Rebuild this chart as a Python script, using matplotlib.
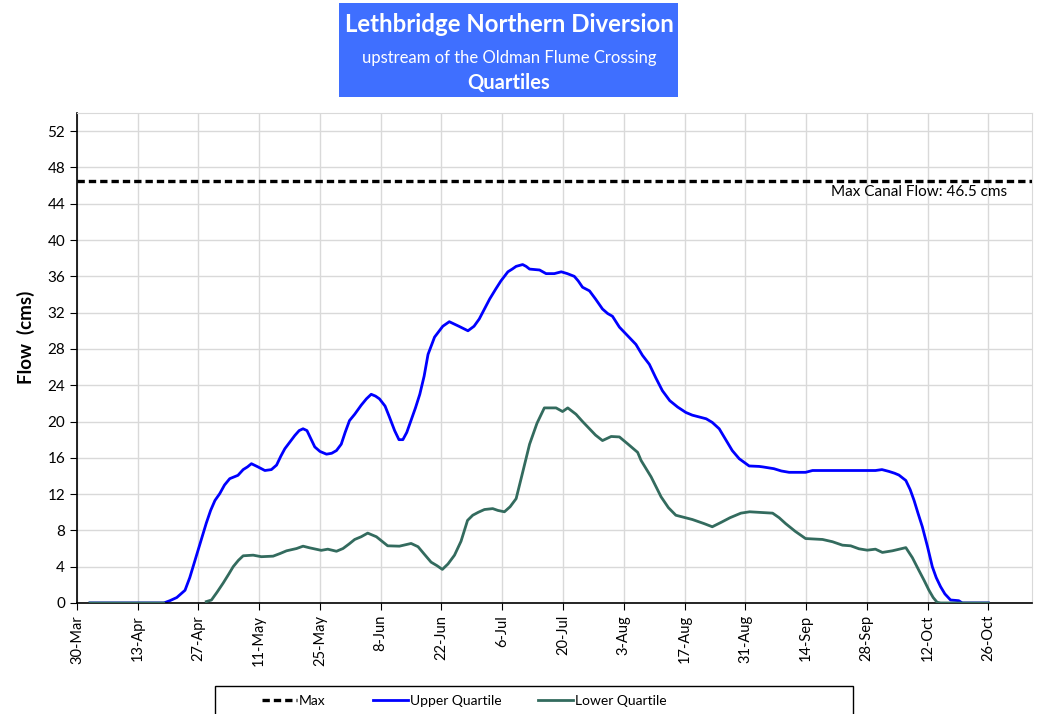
import numpy as np
import matplotlib
matplotlib.use("Agg")
import matplotlib.pyplot as plt
from matplotlib.patches import Rectangle

plt.rcParams['font.family'] = ['Lato', 'DejaVu Sans']

# x axis: days after 30-Mar
tick_days = list(range(0, 211, 14))
tick_labels = ['30-Mar', '13-Apr', '27-Apr', '11-May', '25-May', '8-Jun', '22-Jun',
               '6-Jul', '20-Jul', '3-Aug', '17-Aug', '31-Aug', '14-Sep', '28-Sep',
               '12-Oct', '26-Oct']

max_flow = 46.5

# Upper quartile (cms)
upper_days = [3, 20, 21.4, 23, 24.9, 26, 27.2, 28.5, 29.8, 30.8, 31.8, 32.9, 34, 35.2,
              37.1, 38.3, 39.3, 40.2, 41.7, 43.3, 44.8, 46, 47, 47.9, 49, 50.2, 51.2,
              52.1, 53, 54, 54.8, 56, 57.5, 58.7, 59.8, 60.9, 61.8, 62.8, 64, 65.5,
              66.7, 67.8, 68.8, 69.7, 71, 72, 73.2, 74.2, 75.1, 76, 76.6, 78, 79, 80,
              80.9, 82.4, 84.3, 85.8, 88, 90.1, 91.5, 92.7, 94, 95.1, 96.5, 97.7,
              99.3, 100.3, 101.2, 102.7, 103.5, 104.3, 106.6, 108.1, 110, 111.6, 113,
              114.6, 115.5, 116.5, 118.1, 119.5, 121.1, 122.3, 123.4, 125, 127, 128.8,
              130.3, 131.9, 133.4, 134.9, 136.6, 138.4, 140.3, 141.8, 143.4, 145,
              146.4, 148, 149.5, 151, 152.6, 154.9, 157.2, 158, 160.6, 162.3, 164.1,
              167.9, 169.5, 184, 185.5, 187.1, 188.4, 189.4, 191, 192, 192.9, 193.8,
              194.8, 196, 197.1, 198, 199, 200, 201.3, 203.2, 204, 210]
upper_flow = [0, 0, 0.25, 0.6, 1.4, 2.8, 4.7, 6.8, 8.8, 10.2, 11.3, 12.05, 13.0, 13.7,
              14.07, 14.7, 15.0, 15.35, 15.0, 14.6, 14.7, 15.2, 16.2, 17.0, 17.7, 18.46,
              19.0, 19.2, 19.0, 18.0, 17.2, 16.7, 16.4, 16.5, 16.8, 17.5, 18.8, 20.1,
              20.8, 21.8, 22.5, 23.0, 22.8, 22.5, 21.7, 20.5, 19.0, 18.0, 18.0, 18.8,
              19.6, 21.5, 23.0, 25.0, 27.4, 29.3, 30.5, 31.0, 30.5, 30.0, 30.5, 31.3,
              32.5, 33.5, 34.6, 35.5, 36.5, 36.8, 37.1, 37.3, 37.1, 36.8, 36.7, 36.3,
              36.3, 36.5, 36.3, 36.0, 35.5, 34.8, 34.4, 33.5, 32.4, 31.9, 31.6, 30.4,
              29.4, 28.5, 27.3, 26.3, 24.8, 23.4, 22.3, 21.6, 21.0, 20.7, 20.5, 20.3,
              19.9, 19.2, 18.0, 16.8, 15.9, 15.1, 15.05, 15.0, 14.8, 14.55, 14.4, 14.4,
              14.6, 14.6, 14.7, 14.5, 14.3, 14.1, 13.5, 12.5, 11.3, 9.9, 8.4, 6.2, 4.0,
              2.8, 1.8, 1.0, 0.33, 0.25, 0, 0]

# Lower quartile (cms); gap where no value is plotted
lower_days = [3, 20, 21, 29.8, 31, 32.3, 33.7, 35, 36, 37.2, 38.3, 40.6, 42.5, 45.2,
              46.8, 48.3, 50.6, 52.1, 53.6, 56.3, 57.8, 59.8, 61.3, 62.7, 64, 65.5, 67,
              68, 69, 70.3, 71.6, 74.3, 77, 78.6, 80, 81.6, 83, 84.2, 85.5, 87, 88.5,
              90, 91.2, 92.5, 93.9, 95.8, 97, 98.5, 99.8, 101.2, 102.5, 104.3, 106,
              107.7, 110.4, 111.9, 113.1, 115, 116.5, 118.1, 119.5, 121.1, 123.1, 125,
              127, 129.2, 130, 132.3, 134.6, 136.3, 138, 141.8, 144.5, 146.4, 148.5,
              150.5, 153, 155, 160.3, 161.8, 163.3, 165.5, 167.9, 171.8, 174.1, 176.4,
              178.3, 180.2, 182.1, 184, 185.6, 187.9, 191, 192.5, 194, 195.2, 196.3,
              197.3, 198.2, 199, 210]
lower_flow = [0, 0, np.nan, 0.15, 0.33, 1.2, 2.2, 3.2, 4.0, 4.7, 5.2, 5.27, 5.1, 5.16,
              5.45, 5.75, 6.0, 6.26, 6.08, 5.8, 5.93, 5.7, 6.0, 6.5, 7.0, 7.3, 7.7, 7.5,
              7.3, 6.8, 6.3, 6.26, 6.56, 6.2, 5.4, 4.5, 4.1, 3.7, 4.3, 5.27, 6.8, 9.1,
              9.67, 10.0, 10.3, 10.4, 10.2, 10.05, 10.6, 11.5, 14.0, 17.5, 19.8, 21.5,
              21.5, 21.1, 21.5, 20.8, 20.0, 19.2, 18.5, 17.9, 18.35, 18.3, 17.5, 16.6,
              15.7, 13.9, 11.7, 10.5, 9.67, 9.2, 8.75, 8.4, 8.9, 9.4, 9.9, 10.05, 9.9,
              9.4, 8.75, 7.9, 7.1, 7.0, 6.75, 6.37, 6.3, 5.97, 5.82, 5.93, 5.57, 5.75,
              6.1, 5.0, 3.6, 2.5, 1.43, 0.6, 0.08, 0, 0]

W, H = 1040, 714
fig = plt.figure(figsize=(10.4, 7.14), dpi=100)
ax = fig.add_axes([0.074, 0.1555, 0.918, 0.6862])

h_max = ax.axhline(max_flow, color='black', lw=2.4, dashes=(2.2, 1.2), label='Max', zorder=3)
h_up, = ax.plot(upper_days, upper_flow, color='#0000FF', lw=2.0, label='Upper Quartile', zorder=2)
h_lo, = ax.plot(lower_days, lower_flow, color='#336B5E', lw=2.0, label='Lower Quartile', zorder=4)

ax.text(214.3, 45.3, 'Max Canal Flow: 46.5 cms', ha='right', va='center', fontsize=11)

ax.set_xlim(0, 220)
ax.set_ylim(0, 54)
ax.set_xticks(tick_days)
ax.set_xticklabels(tick_labels, rotation=90, fontsize=10.5)
ax.set_yticks(range(0, 53, 4))
ax.tick_params(axis='y', labelsize=11, direction='out', length=5)
ax.tick_params(axis='x', direction='out', length=5)
ax.grid(True, color='#D9D9D9', lw=1)
ax.set_axisbelow(True)
for s in ['top', 'right']:
    ax.spines[s].set_color('#D9D9D9')
for s in ['left', 'bottom']:
    ax.spines[s].set_color('black')
    ax.spines[s].set_linewidth(1.2)
ax.set_ylabel('Flow  (cms)', fontsize=13.5, fontweight='bold')
ax.yaxis.set_label_coords(-0.044, 0.543)

# title box
fig.patches.append(Rectangle((339 / W, 1 - 97 / H), 339 / W, 94 / H,
                             transform=fig.transFigure, facecolor='#3F6FFF',
                             edgecolor='none'))
fig.text(509 / W, 1 - 25 / H, 'Lethbridge Northern Diversion', color='white',
         fontsize=17.3, fontweight='bold', ha='center', va='center')
fig.text(509 / W, 1 - 58 / H, 'upstream of the Oldman Flume Crossing', color='white',
         fontsize=12, ha='center', va='center')
fig.text(509 / W, 1 - 83 / H, 'Quartiles', color='white',
         fontsize=14.5, fontweight='bold', ha='center', va='center')

# legend box, cut by the bottom edge of the figure
fig.patches.append(Rectangle((215 / W, -0.02), 638 / W, 1 - 686 / H + 0.02,
                             transform=fig.transFigure, facecolor='white',
                             edgecolor='black', lw=1.0))
for h, x0 in [(h_max, 262), (h_up, 373), (h_lo, 538)]:
    fig.legend(handles=[h], loc='center left', bbox_to_anchor=(x0 / W, 1 - 701 / H),
               frameon=False, fontsize=10, handlelength=2.5, handletextpad=0.15,
               borderpad=0, borderaxespad=0)

fig.savefig('out.png', dpi=100)
